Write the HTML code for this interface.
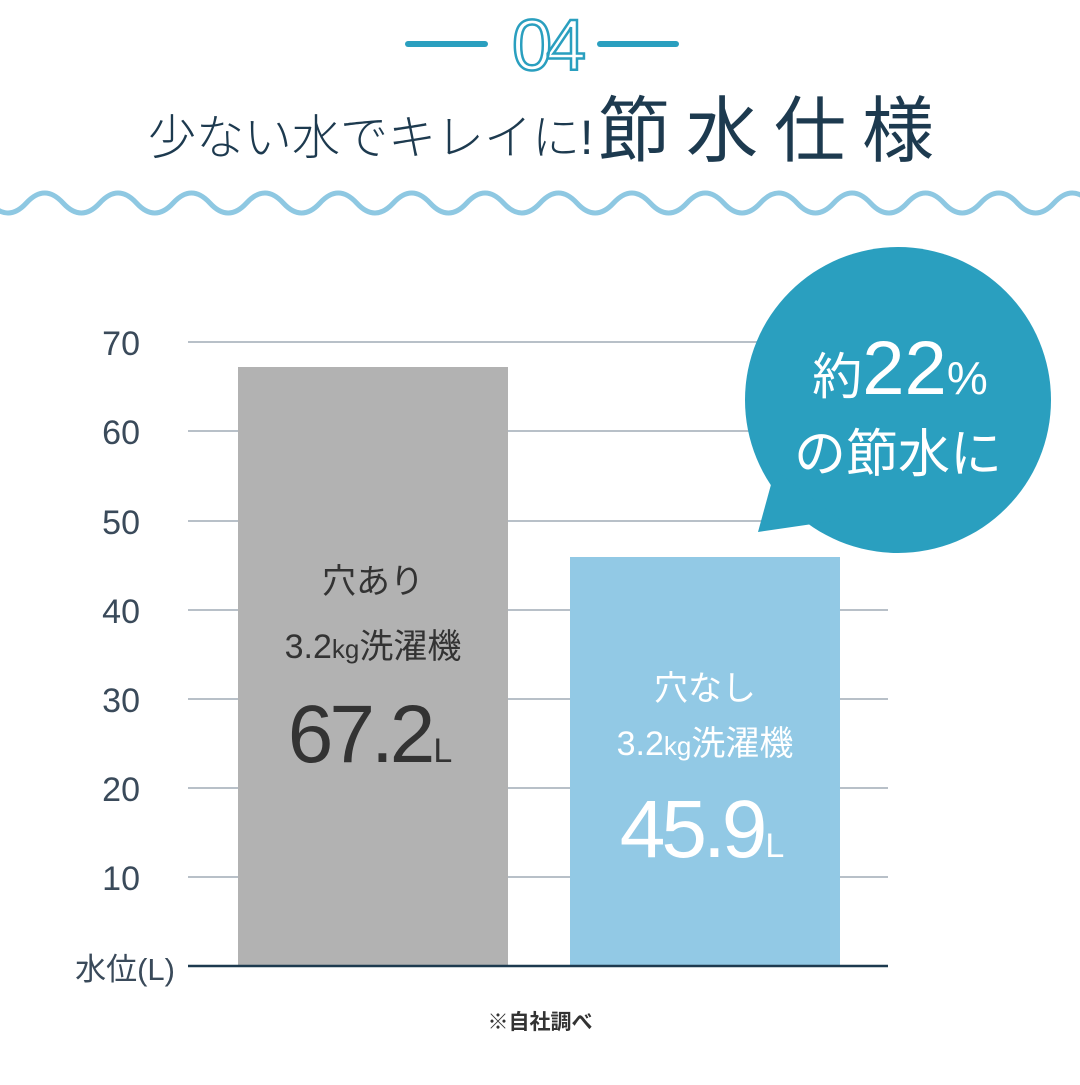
<!DOCTYPE html>
<html><head><meta charset="utf-8"><style>
body{margin:0;background:#fff;}
svg text{font-family:"Liberation Sans","Noto Sans CJK JP",sans-serif;}
</style></head><body>
<svg width="1080" height="1080" viewBox="0 0 1080 1080" xmlns="http://www.w3.org/2000/svg">
<rect width="1080" height="1080" fill="#fff"/>
<!-- header -->
<line x1="408" y1="44" x2="485" y2="44" stroke="#2a9fbf" stroke-width="6" stroke-linecap="round"/>
<line x1="600" y1="44" x2="676" y2="44" stroke="#2a9fbf" stroke-width="6" stroke-linecap="round"/>
<text x="546" y="70" text-anchor="middle" font-size="72" fill="#fff" stroke="#2a9fbf" stroke-width="2.5" letter-spacing="-6">04</text>
<text x="148" y="154" font-size="48" fill="#1d3a4f" font-family="Noto Sans CJK JP,sans-serif" font-weight="300">少ない水でキレイに!</text>
<text x="598" y="156" font-size="72" fill="#1d3a4f" font-family="Noto Sans CJK JP,sans-serif" letter-spacing="16">節水仕様</text>
<path d="M-10.35,203 Q8,223 26.35,203 T63.05,203 T99.75,203 T136.45,203 T173.15,203 T209.85,203 T246.55,203 T283.25,203 T319.95,203 T356.65,203 T393.35,203 T430.05,203 T466.75,203 T503.45,203 T540.15,203 T576.85,203 T613.55,203 T650.25,203 T686.95,203 T723.65,203 T760.35,203 T797.05,203 T833.75,203 T870.45,203 T907.15,203 T943.85,203 T980.55,203 T1017.25,203 T1053.95,203 T1090.65,203 T1127.35,203" fill="none" stroke="#8ec8e2" stroke-width="5"/>
<!-- grid -->
<g stroke="#b8c0c8" stroke-width="2">
<line x1="188" y1="342" x2="888" y2="342"/>
<line x1="188" y1="431" x2="888" y2="431"/>
<line x1="188" y1="521" x2="888" y2="521"/>
<line x1="188" y1="610" x2="888" y2="610"/>
<line x1="188" y1="699" x2="888" y2="699"/>
<line x1="188" y1="788" x2="888" y2="788"/>
<line x1="188" y1="877" x2="888" y2="877"/>
</g>
<g font-size="34" fill="#3a4a5a" text-anchor="end">
<text x="140" y="355">70</text>
<text x="140" y="444">60</text>
<text x="140" y="534">50</text>
<text x="140" y="623">40</text>
<text x="140" y="712">30</text>
<text x="140" y="801">20</text>
<text x="140" y="890">10</text>
</g>
<text x="175" y="980" text-anchor="end" font-size="31" fill="#3a4a5a">水位(L)</text>
<!-- bars -->
<rect x="238" y="367" width="270" height="599" fill="#b2b2b2"/>
<rect x="570" y="557" width="270" height="409" fill="#92c9e5"/>
<line x1="188" y1="966" x2="888" y2="966" stroke="#1d3a4f" stroke-width="2.5"/>
<g text-anchor="middle" fill="#333">
<text x="373" y="593" font-size="34">穴あり</text>
<text x="373" y="658" font-size="34">3.2<tspan font-size="26">kg</tspan>洗濯機</text>
<text x="368" y="762" font-size="82" letter-spacing="-4">67.2<tspan font-size="34" dx="2">L</tspan></text>
</g>
<g text-anchor="middle" fill="#fff">
<text x="705" y="700" font-size="34">穴なし</text>
<text x="705" y="755" font-size="34">3.2<tspan font-size="26">kg</tspan>洗濯機</text>
<text x="700" y="857" font-size="82" letter-spacing="-4">45.9<tspan font-size="34" dx="2">L</tspan></text>
</g>
<!-- bubble -->
<circle cx="898" cy="400" r="153" fill="#2a9fbf"/>
<polygon points="758,532 775,470 840,520" fill="#2a9fbf"/>
<text x="900" y="394" text-anchor="middle" fill="#fff"><tspan font-size="50">約</tspan><tspan font-size="76">22</tspan><tspan font-size="46">%</tspan></text>
<text x="898" y="472" text-anchor="middle" fill="#fff" font-size="52">の節水に</text>
<text x="540" y="1029" text-anchor="middle" font-size="21" fill="#333" font-weight="bold">※自社調べ</text>
</svg>
</body></html>
